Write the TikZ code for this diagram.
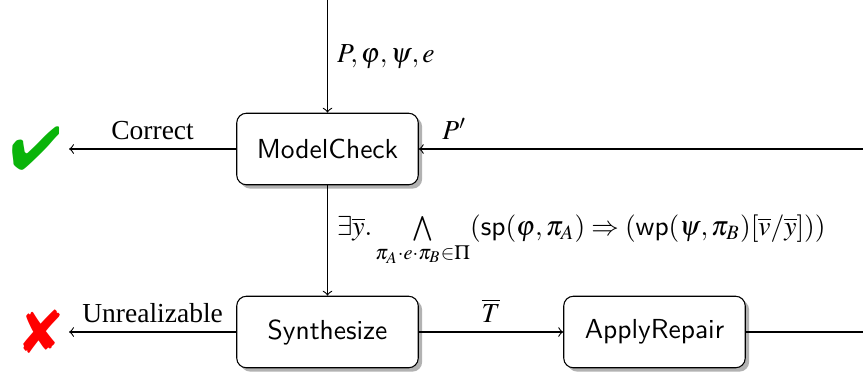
\documentclass[tikz,border=0pt]{standalone}
\usepackage{mathptmx}
\usepackage{fontspec}
\setmainfont{Liberation Serif}
\usepackage{pifont}
\usetikzlibrary{shadows}
\definecolor{okgreen}{RGB}{10,180,10}

\begin{document}
\begin{tikzpicture}
[x=0.3636pt,y=-0.3636pt,
  stagedecorate/.style={shape=rectangle,rounded corners=3.5pt,draw,fill=white,%
    minimum width=66pt,minimum height=26pt,font=\sffamily,%
    drop shadow={shadow xshift=1.4pt,shadow yshift=-1.4pt,opacity=1,fill=black!30}},%
  verdictdecorate/.style={inner sep=0pt,font=\fontsize{22}{24}\selectfont},%
  linedecorate/.style={->}]
\useasboundingbox (0,0) rectangle (863,377);
%% stages
\foreach \nodename/\x/\y/\stagename in {
  modelcheck/327.5/149/ModelCheck, synthesize/327.5/332/Synthesize,
  applyrepair/654.5/332/ApplyRepair}
{
  \node (\nodename) at (\x,\y) [stagedecorate] {\stagename};
}
%% loose ends
\foreach \pointname/\x/\y in {input/327.5/0, correct/69/149, feedback/863/149,
  unreal/69/332, output/863/332}
{
  \coordinate (\pointname) at (\x,\y);
}
%% verdicts
\node (yes) at (36,148.5) [verdictdecorate,text=okgreen] {\ding{52}};
\node (no) at (41.5,331.5) [verdictdecorate,text=red] {\ding{56}};
%% edges
\path
  (input) edge[linedecorate] node[right] {$P,\varphi,\psi,e$} (modelcheck)
  (modelcheck) edge[linedecorate] node[above] {Correct} (correct)
  (feedback) edge[linedecorate] node[pos=0.92,above] {$P'$} (modelcheck)
  (modelcheck) edge[linedecorate] node[right]
    {$\exists\overline{y}.\bigwedge\limits_{\pi_A\cdot e\cdot\pi_B\in\Pi}
      (\mathsf{sp}(\varphi,\pi_A)\Rightarrow(\mathsf{wp}(\psi,\pi_B)[\overline{v}/\overline{y}]))$}
    (synthesize)
  (synthesize) edge[linedecorate] node[above] {Unrealizable} (unreal)
  (synthesize) edge[linedecorate] node[above] {$\overline{T}$} (applyrepair);
\draw (applyrepair) -- (output);
\end{tikzpicture}
\end{document}
